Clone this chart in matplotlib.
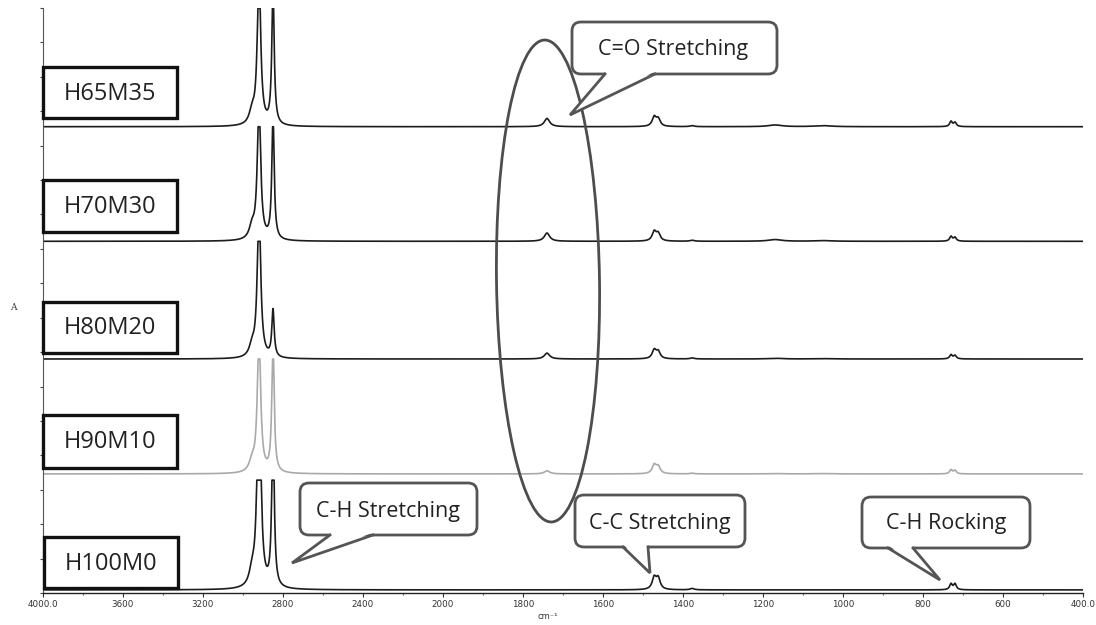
import numpy as np
import matplotlib
matplotlib.use("Agg")
import matplotlib.pyplot as plt
from matplotlib.patches import Rectangle, Ellipse, FancyBboxPatch, Polygon
from matplotlib.lines import Line2D

W, H, DPI = 1096, 625, 100

# ---- data -------------------------------------------------------------
samples = ["H65M35", "H70M30", "H80M20", "H90M10", "H100M0"]
baselines = [13.55, 10.22, 6.80, 3.46, 0.09]      # stacking offset of each trace
pane_tops = [17.0, 13.55, 10.22, 6.80, 3.28]      # each pane clips its trace here
trace_colors = ["#1c1c1c", "#1c1c1c", "#1c1c1c", "#a9a9a9", "#1c1c1c"]

# IR bands (cm-1) and their half widths
band_centers = [2955, 2920, 2850, 1740, 1472, 1462, 1377, 1170, 1050, 730, 720]
band_hwhm = [16, 10, 7, 8, 6, 6, 6, 20, 25, 4, 4]

# band absorbances for each sample (same order as band_centers)
bands_h65m35 = [0.35, 4.5, 4.0, 0.24, 0.27, 0.21, 0.03, 0.05, 0.03, 0.15, 0.12]
bands_h70m30 = [0.35, 4.0, 3.6, 0.24, 0.27, 0.21, 0.03, 0.05, 0.02, 0.14, 0.11]
bands_h80m20 = [0.30, 4.5, 1.37, 0.17, 0.25, 0.20, 0.03, 0.02, 0.01, 0.12, 0.10]
bands_h90m10 = [0.30, 4.0, 3.8, 0.09, 0.25, 0.20, 0.02, 0.01, 0.01, 0.12, 0.10]
bands_h100m0 = [0.40, 7.0, 5.0, 0.0, 0.34, 0.32, 0.04, 0.0, 0.0, 0.17, 0.17]
band_table = [bands_h65m35, bands_h70m30, bands_h80m20, bands_h90m10, bands_h100m0]

major_ticks = [4000, 3600, 3200, 2800, 2400, 2000, 1800, 1600, 1400, 1200,
               1000, 800, 600, 400]
major_labels = ["4000.0", "3600", "3200", "2800", "2400", "2000", "1800",
                "1600", "1400", "1200", "1000", "800", "600", "400.0"]
minor_ticks = [3800, 3400, 3000, 2600, 2200, 1900, 1700, 1500, 1300, 1100,
               900, 700, 500]

callouts = ["C=O Stretching", "C-H Stretching", "C-C Stretching", "C-H Rocking"]

# ---- figure -----------------------------------------------------------
fig = plt.figure(figsize=(W / DPI, H / DPI), dpi=DPI)
fig.patch.set_facecolor("white")

ax = fig.add_axes([43 / W, (H - 593) / H, (1083 - 43) / W, (593 - 8) / H])


# wavenumber axis with doubled scale below 2000 cm-1
def fwd(w):
    w = np.asarray(w, dtype=float)
    return np.where(w >= 2000, w, 2 * w - 2000)


def inv(u):
    u = np.asarray(u, dtype=float)
    return np.where(u >= 2000, u, (u + 2000) / 2)


ax.set_xscale("function", functions=(fwd, inv))

wn = np.linspace(4000, 400, 9001)
for name, base, top, col, heights in zip(samples, baselines, pane_tops,
                                         trace_colors, band_table):
    y = np.full_like(wn, base)
    for c, g, h in zip(band_centers, band_hwhm, heights):
        y += h / (1 + ((wn - c) / g) ** 2)
    y = np.minimum(y, top)
    ax.plot(wn, y, color=col, lw=1.2, solid_joinstyle="round")

ax.set_xlim(4000, 400)
ax.set_ylim(0, 17)

ax.set_xticks(major_ticks)
ax.set_xticklabels(major_labels)
ax.set_xticks(minor_ticks, minor=True)
ax.tick_params(axis="x", which="major", direction="out", length=3, width=0.8,
               pad=2, labelsize=6.3, colors="#333333")
ax.tick_params(axis="x", which="minor", direction="out", length=1.5, width=0.6,
               colors="#333333")
ax.set_yticks(np.arange(0, 18, 1))
ax.set_yticklabels([])
ax.tick_params(axis="y", which="major", direction="out", length=2.5,
               width=0.8, colors="#444444")
for s in ("top", "right"):
    ax.spines[s].set_visible(False)
ax.spines["left"].set_color("#555555")
ax.spines["left"].set_linewidth(0.8)
ax.spines["bottom"].set_color("#222222")
ax.spines["bottom"].set_linewidth(1.0)

fig.text(13 / W, 1 - 308 / H, "A", fontsize=6.5, family="DejaVu Serif",
         ha="center", va="center", color="#333333")
fig.text(548 / W, 1 - 612 / H, "cm⁻¹", fontsize=6, ha="center", va="top",
         color="#333333")

# ---- overlay in pixel units for boxes and callouts ---------------------
ov = fig.add_axes([0, 0, 1, 1])
ov.set_xlim(0, W)
ov.set_ylim(H, 0)
ov.axis("off")

label_boxes = [(43, 67, 177, 118), (43, 180, 177, 232), (43, 302, 177, 353),
               (43, 415, 177, 468), (44, 537, 178, 588)]
for name, (x0, y0, x1, y1) in zip(samples, label_boxes):
    ov.add_patch(Rectangle((x0, y0), x1 - x0, y1 - y0, facecolor="white",
                           edgecolor="#111111", lw=2.4, zorder=3))
    ov.text((x0 + x1) / 2, (y0 + y1) / 2 + 1, name, fontsize=17,
            family="Open Sans", ha="center", va="center", color="#222222",
            zorder=4)

ov.add_patch(Ellipse((548, 281), 103, 482, angle=-0.8, fill=False,
                     edgecolor="#4d4d4d", lw=2.0, zorder=3))

callout_geom = [
    ((572, 22, 777, 74), (605, 74), (655, 74), (570, 115), (673, 49)),
    ((300, 483, 477, 535), (330, 535), (373, 535), (292, 563), (388, 511)),
    ((575, 495, 745, 547), (623, 547), (648, 547), (650, 573), (660, 523)),
    ((862, 497, 1030, 548), (888, 548), (913, 548), (940, 580), (946, 524)),
]
edge = "#555555"
for text, (box, bl, br, tip, txy) in zip(callouts, callout_geom):
    x0, y0, x1, y1 = box
    ov.add_patch(FancyBboxPatch((x0, y0), x1 - x0, y1 - y0,
                                boxstyle="round,pad=0,rounding_size=9",
                                facecolor="white", edgecolor=edge, lw=2.0,
                                zorder=5))
    ov.add_patch(Polygon([(bl[0] + 1, bl[1] - 2), tip, (br[0] - 1, br[1] - 2)],
                         closed=True, facecolor="white", edgecolor="none",
                         zorder=6))
    ov.add_line(Line2D([bl[0], tip[0], br[0]], [bl[1], tip[1], br[1]],
                       color=edge, lw=2.0, solid_joinstyle="miter", zorder=7))
    ov.text(txy[0], txy[1], text, fontsize=15.5, family="Open Sans",
            ha="center", va="center", color="#222222", zorder=8)

fig.savefig("out.png", dpi=DPI, facecolor="white")
